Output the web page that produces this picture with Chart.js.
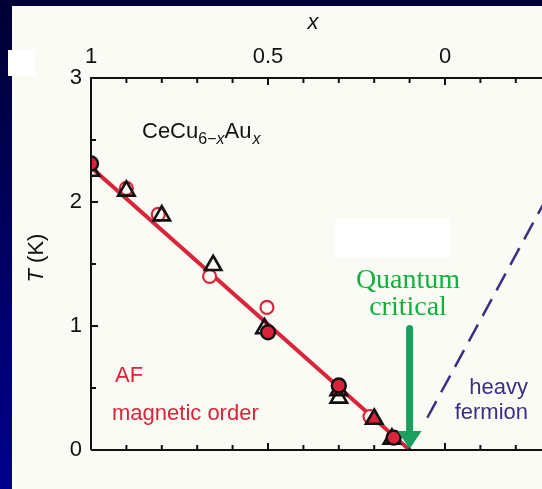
<!DOCTYPE html>
<html>
<head>
<meta charset="UTF-8">
<title>CeCu6-xAux</title>
<script src="https://cdn.jsdelivr.net/npm/chart.js"></script>
<style>
    html, body { margin: 0; padding: 0; background: #000050; }
    #wrap { width: 542px; height: 489px; }
</style>
</head>
<body>
<div id="wrap"><canvas id="grafico" width="542" height="489"></canvas></div>
<script>
// dados (x, T em K)
var linhaAF = [{x: 1, y: 2.28}, {x: 0.1, y: 0}];
var linhaHF = [{x: 0.05, y: 0.26}, {x: -0.3, y: 2.1}];
var circulosCheios = [{x: 1, y: 2.31}, {x: 0.5, y: 0.95}, {x: 0.3, y: 0.52}, {x: 0.145, y: 0.1}];
var circulosAbertos = [{x: 0.9, y: 2.11}, {x: 0.81, y: 1.9}, {x: 0.665, y: 1.4}, {x: 0.503, y: 1.15},
                       {x: 0.212, y: 0.27}];
var triangulos = [{x: 1, y: 2.25}, {x: 0.9, y: 2.09}, {x: 0.8, y: 1.89}, {x: 0.655, y: 1.49},
                  {x: 0.51, y: 0.98}, {x: 0.3, y: 0.48}, {x: 0.3, y: 0.42}, {x: 0.2, y: 0.25},
                  {x: 0.15, y: 0.09}];
var triangulosCor = ['rgba(0,0,0,0)', 'rgba(0,0,0,0)', 'rgba(0,0,0,0)', 'rgba(0,0,0,0)',
                     'rgba(0,0,0,0)', '#d9243a', 'rgba(0,0,0,0)', '#d9243a', '#d9243a'];
var ticksX = [1, 0.5, 0];
var ticksY = [0, 1, 2, 3];
var setaX = 0.1;
var setaTopo = 0.98;

var vermelho = '#d9243a';
var azul = '#3b2f85';
var sans = '"Liberation Sans", Arial, sans-serif';

var fundo = {
    id: 'fundo',
    beforeDraw: function(chart){
        var c = chart.ctx;
        var g = c.createLinearGradient(0, 0, 0, chart.height);
        g.addColorStop(0, '#000035');
        g.addColorStop(1, '#00008c');
        c.save();
        c.fillStyle = g;
        c.fillRect(0, 0, chart.width, chart.height);
        c.fillStyle = '#fbfbf6';
        c.fillRect(12, 6, chart.width - 12, chart.height - 6);
        c.fillStyle = '#ffffff';
        c.fillRect(8, 50, 27, 26);
        c.fillRect(335, 219, 115, 38);
        c.restore();
    }
};

var eixos = {
    id: 'eixos',
    afterDraw: function(chart){
        var c = chart.ctx;
        var sx = chart.scales.x, sy = chart.scales.y;
        var a = chart.chartArea;
        c.save();
        c.strokeStyle = '#111';
        c.lineWidth = 2;
        c.beginPath();
        c.moveTo(a.left, a.bottom); c.lineTo(a.left, a.top); c.lineTo(a.right, a.top);
        c.moveTo(a.left, a.bottom); c.lineTo(a.right, a.bottom);
        c.stroke();
        // ticks x a cada 0.1
        c.beginPath();
        for (var i = -3; i <= 10; i++) {
            var v = i / 10;
            var px = sx.getPixelForValue(v);
            if (px < a.left + 1 || px > a.right) continue;
            var len = (i % 5 == 0) ? 7 : 5;
            c.moveTo(px, a.top); c.lineTo(px, a.top + len);
            c.moveTo(px, a.bottom); c.lineTo(px, a.bottom - len);
        }
        for (var j = 1; j < 6; j++) {
            var py = sy.getPixelForValue(j / 2);
            var l2 = (j % 2 == 0) ? 7 : 5;
            c.moveTo(a.left, py); c.lineTo(a.left + l2, py);
        }
        c.stroke();
        c.fillStyle = '#111';
        c.font = '22px ' + sans;
        c.textAlign = 'center';
        c.textBaseline = 'middle';
        ticksX.forEach(function(v){
            c.fillText(String(v), sx.getPixelForValue(v), 57);
        });
        c.textAlign = 'right';
        ticksY.forEach(function(v){
            c.fillText(String(v), a.left - 9, sy.getPixelForValue(v));
        });
        c.textAlign = 'center';
        c.font = 'italic 22px ' + sans;
        c.fillText('x', 313, 23);
        c.translate(37, 258);
        c.rotate(-Math.PI / 2);
        c.font = 'italic 22px ' + sans;
        var w1 = c.measureText('T').width;
        c.font = '22px ' + sans;
        var w2 = c.measureText(' (K)').width;
        c.textAlign = 'left';
        c.font = 'italic 22px ' + sans;
        c.fillText('T', -(w1 + w2) / 2, 0);
        c.font = '22px ' + sans;
        c.fillText(' (K)', -(w1 + w2) / 2 + w1, 0);
        c.restore();

        // textos
        c.save();
        c.textBaseline = 'alphabetic';
        c.textAlign = 'left';
        c.fillStyle = '#111';
        var xx = 142;
        c.font = '22px ' + sans;
        c.fillText('CeCu', xx, 138); xx += c.measureText('CeCu').width;
        c.font = '16px ' + sans;
        c.fillText('6\u2212', xx, 144); xx += c.measureText('6\u2212').width;
        c.font = 'italic 16px ' + sans;
        c.fillText('x', xx, 144); xx += c.measureText('x').width;
        c.font = '22px ' + sans;
        c.fillText('Au', xx, 138); xx += c.measureText('Au').width;
        c.font = 'italic 16px ' + sans;
        c.fillText('x', xx + 1, 144);

        c.fillStyle = vermelho;
        c.font = '22px ' + sans;
        c.fillText('AF', 115, 382);
        c.fillText('magnetic order', 112, 420);

        c.fillStyle = azul;
        c.textAlign = 'right';
        c.fillText('heavy', 528, 394);
        c.fillText('fermion', 528, 419);

        c.fillStyle = '#10b23c';
        c.textAlign = 'center';
        c.font = '28px "Liberation Serif", "Times New Roman", serif';
        c.fillText('Quantum', 408, 288);
        c.fillText('critical', 408, 315);

        // seta verde
        var ax = sx.getPixelForValue(setaX);
        var y0 = sy.getPixelForValue(setaTopo);
        var y1 = sy.getPixelForValue(0);
        c.strokeStyle = '#19a05e';
        c.fillStyle = '#19a05e';
        c.lineWidth = 7;
        c.lineCap = 'round';
        c.beginPath();
        c.moveTo(ax, y0); c.lineTo(ax, y1 - 14);
        c.stroke();
        c.beginPath();
        c.moveTo(ax - 12, y1 - 19); c.lineTo(ax + 12, y1 - 19); c.lineTo(ax, y1 - 1);
        c.closePath();
        c.fill();
        c.restore();
    }
};

new Chart(document.getElementById('grafico'), {
    type: 'scatter',
    data: {
        datasets: [
            {data: circulosCheios, pointStyle: 'circle', pointRadius: 7, backgroundColor: vermelho,
             borderColor: '#111', pointBorderWidth: 2.4, order: 0},
            {data: triangulos, pointStyle: 'triangle', pointRadius: 9.5, backgroundColor: triangulosCor,
             borderColor: '#111', pointBorderWidth: 2.6, order: 1},
            {data: circulosAbertos, pointStyle: 'circle', pointRadius: 6.5, backgroundColor: '#fbfbf6',
             borderColor: vermelho, pointBorderWidth: 2.2, order: 2},
            {data: linhaAF, showLine: true, borderColor: vermelho, borderWidth: 4, pointRadius: 0, order: 3},
            {data: linhaHF, showLine: true, borderColor: azul, borderWidth: 2.5, borderDash: [19, 10],
             pointRadius: 0, order: 4}
        ]
    },
    options: {
        responsive: false,
        animation: false,
        layout: {autoPadding: false, padding: {left: 91, top: 78, right: 0, bottom: 39}},
        scales: {
            x: {type: 'linear', reverse: true, min: -0.274, max: 1, display: false},
            y: {type: 'linear', min: 0, max: 3, display: false}
        },
        plugins: {legend: {display: false}, tooltip: {enabled: false}}
    },
    plugins: [fundo, eixos]
});
</script>
</body>
</html>
